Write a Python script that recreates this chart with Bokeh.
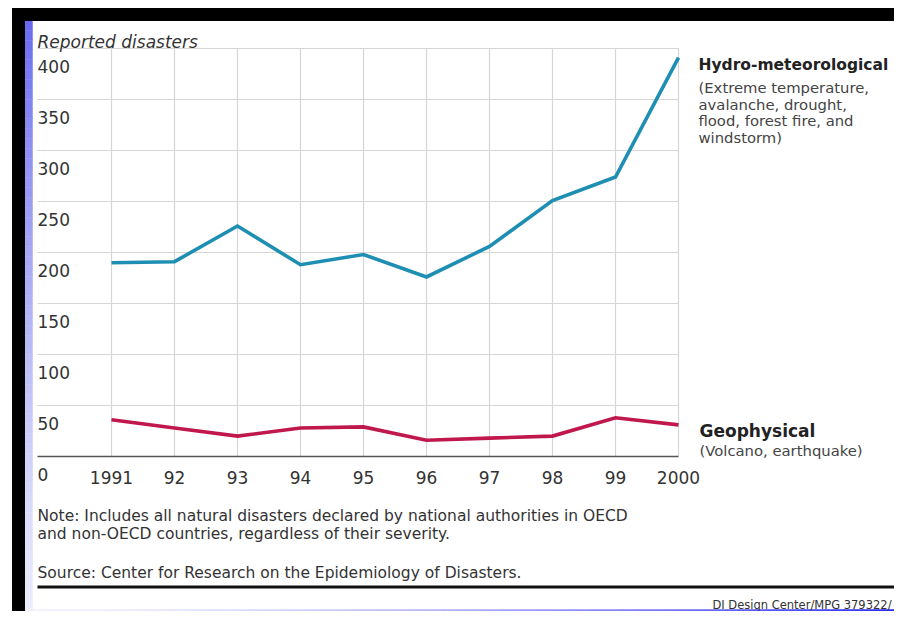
from bokeh.plotting import figure
from bokeh.models import Range1d
from bokeh.core.properties import value
from bokeh.embed import file_html
from bokeh.resources import INLINE

# ---------------- data ----------------
years = [1991, 1992, 1993, 1994, 1995, 1996, 1997, 1998, 1999, 2000]
year_labels = ["1991", "92", "93", "94", "95", "96", "97", "98", "99", "2000"]
hydro = [190, 191, 226, 188, 198, 176, 206, 251, 274, 391]
geo = [36, 28, 20, 28, 29, 16, 18, 20, 38, 31]
y_ticks = [0, 50, 100, 150, 200, 250, 300, 350, 400]
y_tick_labels = ["0", "50", "100", "150", "200", "250", "300", "350", "400"]

axis_title = "Reported disasters"
hydro_title = "Hydro-meteorological"
hydro_desc = ["(Extreme temperature,", "avalanche, drought,", "flood, forest fire, and", "windstorm)"]
geo_title = "Geophysical"
geo_desc = ["(Volcano, earthquake)"]
note_lines = ["Note: Includes all natural disasters declared by national authorities in OECD",
              "and non-OECD countries, regardless of their severity."]
source_line = "Source: Center for Research on the Epidemiology of Disasters."
credit = "DI Design Center/MPG 379322/"

# ---------------- geometry (picture pixels) ----------------
W, H = 894, 611
PX_YEAR = 63.0
X_FIRST = 111
PX_UNIT = 1.02
Y_ZERO = 456


def fx(ix):
    return years[0] + (ix - X_FIRST) / PX_YEAR


def fy(iy):
    return (Y_ZERO - iy) / PX_UNIT


FONT = value("DejaVu Sans")

p = figure(width=W, height=H, output_backend="svg", toolbar_location=None,
           x_range=Range1d(fx(0), fx(W)), y_range=Range1d(fy(H), fy(0)),
           x_axis_location=None, y_axis_location=None, min_border=0,
           background_fill_color="white", border_fill_color="white")
p.grid.visible = False
p.outline_line_color = None


def lerp(c1, c2, t):
    return "#%02x%02x%02x" % tuple(int(round(a + (b - a) * t)) for a, b in zip(c1, c2))


# left gradient strip
N = 60
top_px, bot_px = 20, 610
lt, lb, lc = [], [], []
for i in range(N):
    a = top_px + (bot_px - top_px) * i / N
    b = top_px + (bot_px - top_px) * (i + 1) / N
    lt.append(fy(a)); lb.append(fy(b))
    lc.append(lerp((105, 105, 240), (236, 236, 253), (i / (N - 1)) ** 0.8))
p.quad(left=fx(24), right=fx(32), top=lt, bottom=lb, fill_color=lc, line_color=lc, line_width=0.5)

# bottom gradient strip
M = 90
bl, br, bc = [], [], []
for i in range(M):
    a = 24 + (902 - 24) * i / M
    b = 24 + (902 - 24) * (i + 1) / M
    bl.append(fx(a)); br.append(fx(b))
    bc.append(lerp((240, 240, 253), (40, 40, 240), (i / (M - 1)) ** 1.6))
p.quad(left=bl, right=br, top=fy(609), bottom=fy(619), fill_color=bc, line_color=bc, line_width=0.5)

# black frame
p.quad(left=[fx(12), fx(12)], right=[fx(910), fx(24)], top=[fy(8), fy(8)], bottom=[fy(20), fy(627)],
       fill_color="black", line_color="black")

# grid lines
p.segment(x0=years, y0=0, x1=years, y1=y_ticks[-1], line_color="#d6d6d6", line_width=1.2)
p.segment(x0=fx(37), y0=y_ticks[1:], x1=years[-1], y1=y_ticks[1:], line_color="#d6d6d6", line_width=1.2)
p.segment(x0=fx(37), y0=0, x1=years[-1], y1=0, line_color="#555555", line_width=1.6)

# series
p.line(years, hydro, line_color="#1e8fb3", line_width=3.6, line_join="miter")
p.line(years, geo, line_color="#c0174d", line_width=3.6, line_join="miter")

# tick labels
p.text(x=years, y=[fy(477)] * len(years), text=year_labels, text_font=FONT, text_font_size="17px",
       text_color="#333333", text_align="center", text_baseline="alphabetic")
p.text(x=fx(37), y=[t - 18 / PX_UNIT for t in y_ticks], text=y_tick_labels, text_font=FONT,
       text_font_size="17px", text_color="#333333", text_align="left", text_baseline="alphabetic")

# axis title
p.text(x=fx(37), y=fy(41), text=[axis_title], text_font=FONT, text_font_size="17px",
       text_font_style="italic", text_color="#333333", text_baseline="alphabetic")

# series labels
p.text(x=fx(698), y=fy(64), text=[hydro_title], text_font=FONT, text_font_size="15.5px",
       text_font_style="bold", text_color="#222222", text_baseline="alphabetic")
p.text(x=fx(698), y=[fy(87 + 16.5 * i) for i in range(len(hydro_desc))], text=hydro_desc,
       text_font=FONT, text_font_size="14.8px", text_color="#444444", text_baseline="alphabetic")
p.text(x=fx(699), y=fy(430), text=[geo_title], text_font=FONT, text_font_size="17px",
       text_font_style="bold", text_color="#222222", text_baseline="alphabetic")
p.text(x=fx(699), y=[fy(450)], text=geo_desc, text_font=FONT, text_font_size="14.8px",
       text_color="#444444", text_baseline="alphabetic")

# notes
p.text(x=fx(37), y=[fy(515), fy(533)], text=note_lines, text_font=FONT, text_font_size="15.5px",
       text_color="#333333", text_baseline="alphabetic")
p.text(x=fx(37), y=fy(572), text=[source_line], text_font=FONT, text_font_size="15.5px",
       text_color="#333333", text_baseline="alphabetic")

# rule and credit
p.quad(left=fx(37), right=fx(902), top=fy(585), bottom=fy(588), fill_color="#111111", line_color=None)
p.text(x=fx(891), y=fy(604), text=[credit], text_font=FONT, text_font_size="11.5px",
       text_color="#333333", text_align="right", text_baseline="alphabetic")

open("out.html", "w").write(file_html(p, INLINE))
